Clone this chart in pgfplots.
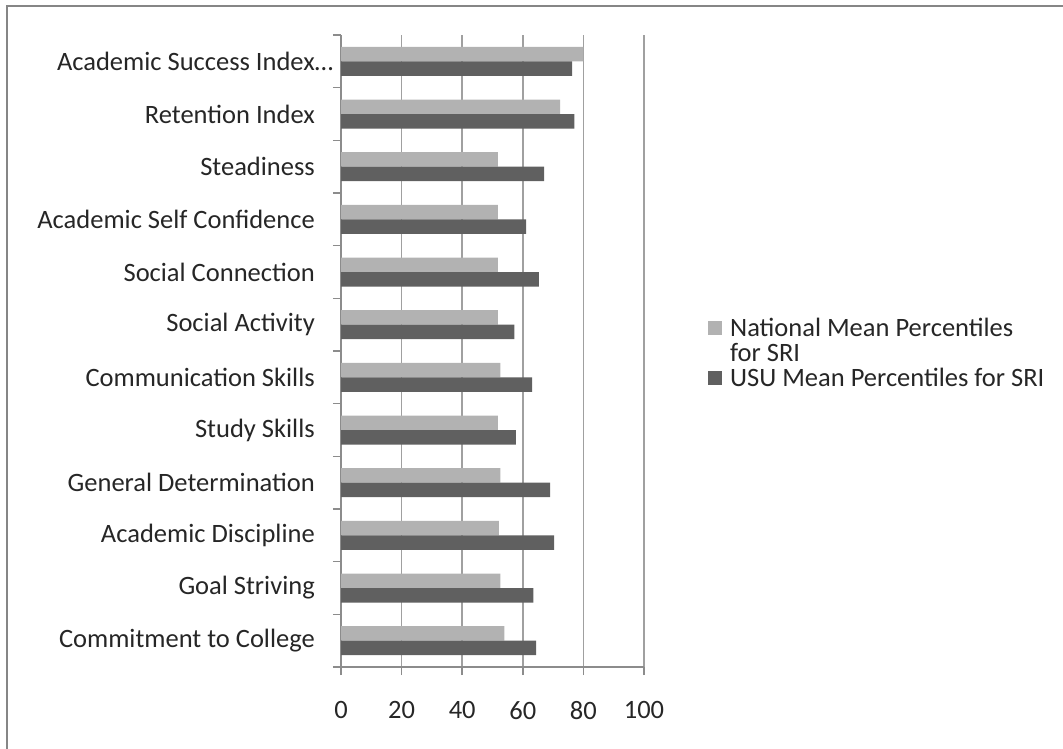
\documentclass[border=0pt]{standalone}
\usepackage{pgfplots}
\pgfplotsset{compat=1.18}
\usepackage{fontspec}
\setmainfont{Carlito}
\definecolor{natgray}{RGB}{178,178,178}
\definecolor{usugray}{RGB}{96,96,96}
\definecolor{gridgray}{RGB}{160,160,160}
\definecolor{axisgray}{RGB}{140,140,140}
\definecolor{bordergray}{RGB}{134,134,134}
\begin{document}
\begin{tikzpicture}
\useasboundingbox (0,0) rectangle (1063pt,-748pt);
\draw[line width=2pt, color=bordergray] (7pt,-770pt) -- (7pt,-6pt) -- (1080pt,-6pt);
\begin{axis}[
  at={(341pt,-667pt)}, anchor=south west,
  width=303pt, height=632pt, scale only axis,
  xbar, bar width=14.5pt,
  xmin=0, xmax=100, ymin=-0.5, ymax=11.5,
  axis x line*=bottom, axis y line*=left,
  axis line style={line width=1.6pt, color=axisgray, -},
  xtick={0,20,40,60,80,100}, xticklabels={0,20,40,60,80,100},
  xmajorgrids, major grid style={line width=1.6pt, color=gridgray},
  ytick={-0.5,0.5,1.5,2.5,3.5,4.5,5.5,6.5,7.5,8.5,9.5,10.5,11.5},
  yticklabels={Commitment to College, Goal Striving, Academic Discipline, General Determination, Study Skills, Communication Skills, Social Activity, Social Connection, Academic Self Confidence, Steadiness, Retention Index, Academic Success Index\rlap{…}},
  y tick label as interval,
  xtick pos=bottom, ytick pos=left,
  tick align=outside, major tick length=8pt,
  tick style={line width=1.6pt, color=axisgray},
  every tick label/.append style={font=\fontsize{26.5}{30}\selectfont, text=black!85},
  yticklabel style={anchor=east, inner sep=0pt, xshift=-18pt},
  xticklabel style={anchor=north, inner sep=0pt, yshift=-26pt},
  legend style={draw=none, fill=none, at={(1.211,0.5554)}, anchor=north west,
    inner sep=0pt, font=\fontsize{26.5}{26.5}\selectfont, text=black!85, row sep=2pt, column sep=8pt,
    nodes={inner sep=0pt, text height=20pt, text depth=3pt}},
  legend cell align=left,
  legend image code/.code={\draw[#1,draw=none] (0pt,-7pt) rectangle (14pt,7pt);},
]
\addplot[fill=natgray, draw=none, bar shift=7.25pt] coordinates {
(53.9,0) (52.6,1) (52.1,2) (52.6,3) (51.8,4) (52.6,5) (51.8,6) (51.8,7) (51.8,8) (51.8,9) (72.3,10) (80.0,11)};
\addlegendentry{National Mean Percentiles}
\addlegendimage{empty legend}
\addlegendentry{for SRI}
\addplot[fill=usugray, draw=none, bar shift=-7.25pt] coordinates {
(64.4,0) (63.5,1) (70.3,2) (69.0,3) (57.7,4) (63.1,5) (57.2,6) (65.3,7) (61.1,8) (67.0,9) (77.0,10) (76.3,11)};
\addlegendentry{USU Mean Percentiles for SRI}
\end{axis}
\end{tikzpicture}
\end{document}
